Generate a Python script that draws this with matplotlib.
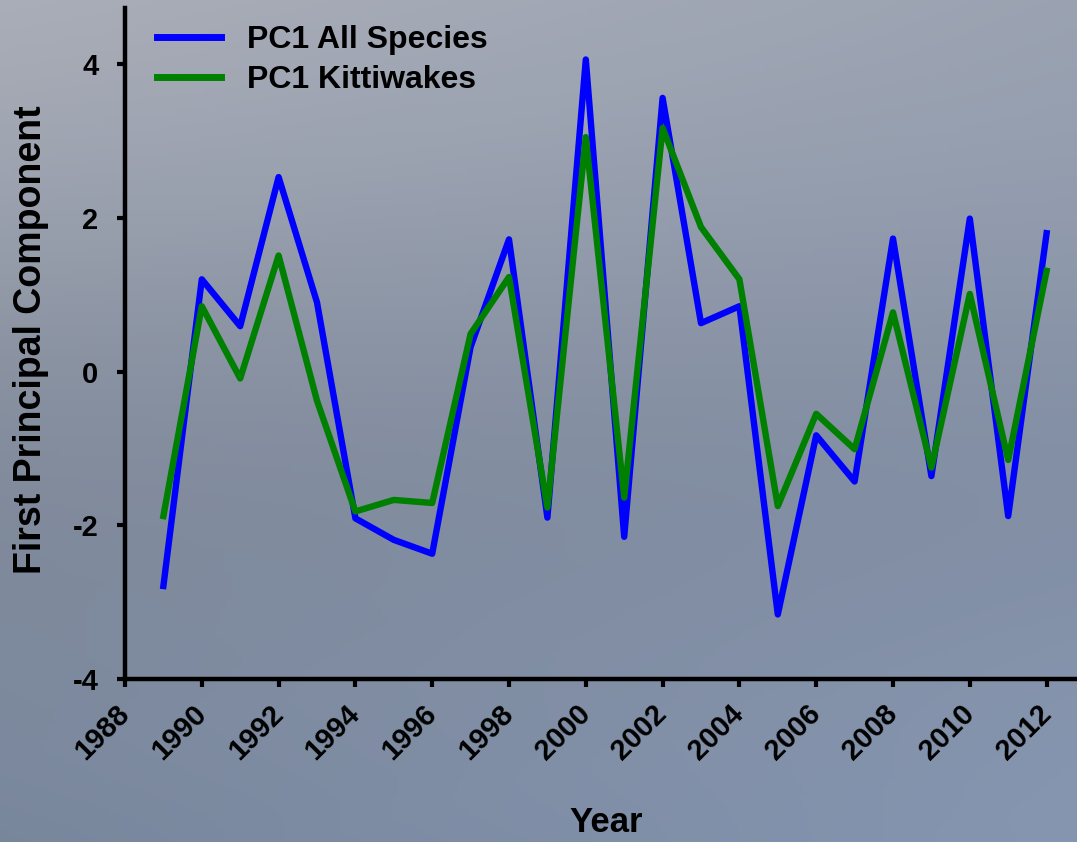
import numpy as np
import matplotlib
matplotlib.use("Agg")
import matplotlib.pyplot as plt

# ----------------------------
# Data
# ----------------------------
years = list(range(1989, 2013))
pc1_all = [-2.79, 1.20, 0.59, 2.53, 0.90, -1.91, -2.19, -2.37, 0.32, 1.72,
           -1.90, 4.06, -2.15, 3.56, 0.63, 0.85, -3.16, -0.83, -1.43, 1.73,
           -1.36, 1.99, -1.88, 1.80]
pc1_kitti = [-1.88, 0.85, -0.09, 1.51, -0.38, -1.82, -1.67, -1.71, 0.49, 1.23,
             -1.77, 3.05, -1.64, 3.17, 1.88, 1.20, -1.75, -0.55, -1.01, 0.77,
             -1.25, 1.01, -1.15, 1.31]
series_labels = ["PC1 All Species", "PC1 Kittiwakes"]
x_ticks = list(range(1988, 2013, 2))
y_ticks = [-4, -2, 0, 2, 4]

plt.rcParams["font.family"] = ["Liberation Sans", "DejaVu Sans"]
plt.rcParams["font.weight"] = "bold"

W, H = 1077, 842
fig = plt.figure(figsize=(W / 100, H / 100), dpi=100)

# background gradient (grey top-left -> blue-grey bottom)
bg = fig.add_axes([0, 0, 1, 1])
ny, nx = 200, 200
yy, xx = np.mgrid[0:1:ny * 1j, 0:1:nx * 1j]
tl = np.array([170, 174, 184]) / 255
tr = np.array([155, 163, 178]) / 255
bl = np.array([122, 136, 158]) / 255
br = np.array([135, 151, 178]) / 255
img = ((1 - yy)[..., None] * ((1 - xx)[..., None] * tl + xx[..., None] * tr)
       + yy[..., None] * ((1 - xx)[..., None] * bl + xx[..., None] * br))
# slightly darker band in the middle
img = img - 0.05 * np.exp(-((yy - 0.55) / 0.3) ** 2)[..., None]
bg.imshow(np.clip(img, 0, 1), aspect="auto", extent=[0, 1, 0, 1])
bg.set_axis_off()

# main axes
left = 125 / W
bottom = (H - 679) / H
top = (H - 8) / H
ax = fig.add_axes([left, bottom, 1 - left, top - bottom])
ax.patch.set_alpha(0)

ax.plot(years, pc1_all, color="#0000FF", lw=4.6, label=series_labels[0])
ax.plot(years, pc1_kitti, color="#008000", lw=4.6, label=series_labels[1])

ax.set_xlim(1988, 1988 + (W - 125) / 38.4)
ax.set_ylim(-4, 4.73)
ax.set_xticks(x_ticks)
ax.set_yticks(y_ticks)
ax.set_xticklabels([str(t) for t in x_ticks], rotation=45, ha="right", va="center",
                   rotation_mode="anchor", fontsize=21, fontweight="bold")
ax.set_yticklabels([str(t) for t in y_ticks], fontsize=21, fontweight="bold")

for side in ["top", "right"]:
    ax.spines[side].set_visible(False)
for side in ["left", "bottom"]:
    ax.spines[side].set_linewidth(3.2)
    ax.spines[side].set_color("black")
ax.tick_params(direction="out", length=6, width=3)
ax.tick_params(axis="x", pad=16)
ax.tick_params(axis="y", pad=13)

ax.set_xlabel("Year", fontsize=25, fontweight="bold", va="top")
ax.xaxis.set_label_coords(0.505, (679 - 806) / 671)
ax.set_ylabel("First Principal Component", fontsize=27, fontweight="bold")
ax.yaxis.set_label_coords((49 - 125) / 952, 0.505)

leg = ax.legend(loc="upper left", frameon=False, fontsize=23, handlelength=2.0,
                handletextpad=0.8, labelspacing=0.3,
                bbox_to_anchor=(0.012, 1.005), borderaxespad=0.25)
for line in leg.get_lines():
    line.set_linewidth(5)
for t in leg.get_texts():
    t.set_fontweight("bold")

fig.savefig("out.png", dpi=100)
